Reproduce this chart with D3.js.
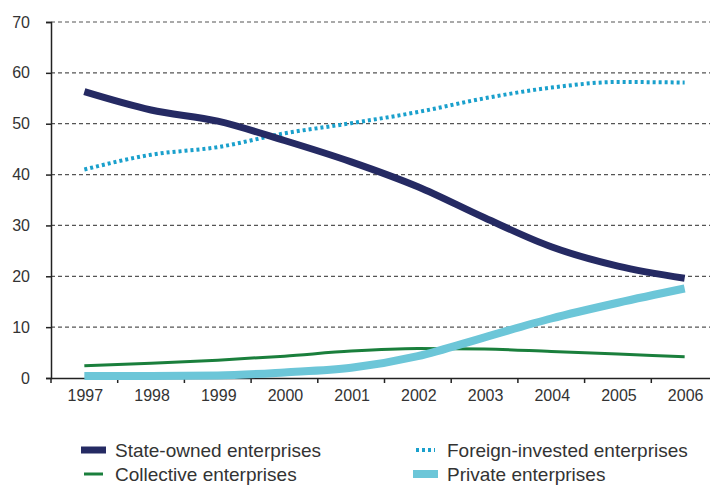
<!DOCTYPE html>
<html><head><meta charset="utf-8">
<script src="https://cdn.jsdelivr.net/npm/d3@7"></script>
<style>
body{margin:0;background:#fff;}
text{font-family:"Liberation Sans",Arial,sans-serif;}
</style></head>
<body><svg id="c" width="710" height="486"></svg>
<script>
const years = ["1997","1998","1999","2000","2001","2002","2003","2004","2005","2006"];
const stateOwned = [56.3,52.7,50.5,46.7,42.5,37.6,31.5,25.8,22.0,19.6];
const foreignInvested = [41.0,43.9,45.4,48.1,50.1,52.3,55.0,57.1,58.2,58.1];
const collective = [2.4,2.9,3.5,4.3,5.3,5.8,5.7,5.2,4.7,4.2];
const privateEnt = [0.4,0.4,0.5,1.1,2.0,4.3,8.0,11.7,14.8,17.6];
const yTicks = [0,10,20,30,40,50,60,70];

const series = [
  {name:"State-owned enterprises", values:stateOwned, color:"#252a63", width:7, dash:null},
  {name:"Foreign-invested enterprises", values:foreignInvested, color:"#1aa0cc", width:4, dash:"3,3"},
  {name:"Collective enterprises", values:collective, color:"#1a7f3c", width:3, dash:null},
  {name:"Private enterprises", values:privateEnt, color:"#6cc6d8", width:8, dash:null}
];

const svg = d3.select("#c");
const mLeft = 51, mRight = 718, mTop = 22, mBottom = 378;
const x = d3.scaleBand().domain(years).range([mLeft, mRight]);
const y = d3.scaleLinear().domain([0,70]).range([mBottom, mTop]);

// gridlines
svg.append("g").selectAll("line").data(yTicks.filter(d=>d>0)).join("line")
  .attr("x1", mLeft).attr("x2", 710)
  .attr("y1", d=>y(d)).attr("y2", d=>y(d))
  .attr("stroke", "#555").attr("stroke-width", 1.2).attr("stroke-dasharray", "4,3");

// y axis
const ya = svg.append("g").attr("transform", `translate(${mLeft},0)`)
  .call(d3.axisLeft(y).tickValues(yTicks).tickSize(5).tickPadding(16));
ya.select(".domain").attr("stroke", "#222").attr("stroke-width", 1.5);
ya.selectAll(".tick line").attr("stroke", "#222").attr("stroke-width", 1.5);
ya.selectAll("text").attr("font-size", 16).attr("fill", "#333");

// x axis
const xa = svg.append("g").attr("transform", `translate(0,${mBottom})`)
  .call(d3.axisBottom(x).tickSize(0).tickPadding(12));
xa.select(".domain").attr("stroke", "#222").attr("stroke-width", 1.5);
xa.selectAll("text").attr("font-size", 16).attr("fill", "#333").attr("dx", 1);
xa.selectAll(".tick").append("line")
  .attr("x1", -x.bandwidth()/2).attr("x2", -x.bandwidth()/2)
  .attr("y1", 0).attr("y2", 5).attr("stroke", "#222").attr("stroke-width", 1.5);

// lines
const line = d3.line()
  .x((d,i)=>x(years[i]) + x.bandwidth()/2)
  .y(d=>y(d))
  .curve(d3.curveMonotoneX);

const order = [series[2], series[3], series[1], series[0]];
svg.append("g").selectAll("path").data(order).join("path")
  .attr("d", d=>line(d.values))
  .attr("fill", "none")
  .attr("stroke", d=>d.color)
  .attr("stroke-width", d=>d.width)
  .attr("stroke-dasharray", d=>d.dash);

// legend
const legPos = [[81,450],[413,450],[81,474],[413,474]];
const lg = svg.append("g").selectAll("g").data(series).join("g")
  .attr("transform", (d,i)=>`translate(${legPos[i][0]},${legPos[i][1]})`);
lg.append("line").attr("x1", d=>d.width<5?3:0).attr("x2", d=>d.width<5?22:25)
  .attr("y1",0).attr("y2",0)
  .attr("stroke", d=>d.color).attr("stroke-width", d=>d.width)
  .attr("stroke-dasharray", d=>d.dash);
lg.append("text").attr("x", 34).attr("y", 0).attr("dy","0.35em")
  .attr("font-size", 19).attr("fill", "#333").text(d=>d.name);
</script></body></html>
